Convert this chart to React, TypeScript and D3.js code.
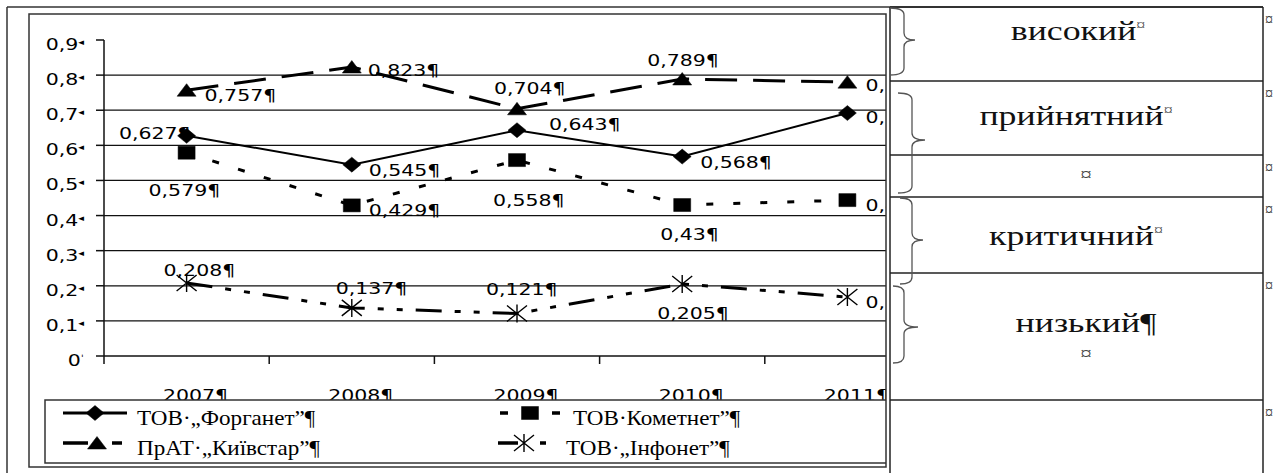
import React, { useEffect } from "react";
import * as d3 from "d3";

// ---------- data ----------
const years = ["2007", "2008", "2009", "2010", "2011"];
const forganet = [0.627, 0.545, 0.643, 0.568, 0.692];
const kometnet = [0.579, 0.429, 0.558, 0.43, 0.444];
const kyivstar = [0.757, 0.823, 0.704, 0.789, 0.78];
const infonet = [0.208, 0.137, 0.121, 0.205, 0.168];
const yTickValues = [0, 0.1, 0.2, 0.3, 0.4, 0.5, 0.6, 0.7, 0.8, 0.9];
const seriesNames = ["ТОВ·„Форганет”¶", "ТОВ·Кометнет”¶", "ПрАТ·„Київстар”¶", "ТОВ·„Інфонет”¶"];
const levelNames = ["високий", "прийнятний", "", "критичний", "низький"];

// ---------- layout ----------
const W = 1278;
const H = 473;
const SX = 1.28; // horizontal stretch of glyphs in the reference
const SX_LEGEND = 1.05;
const SANS = "'DejaVu Sans', Verdana, sans-serif";
const SERIF = "'Liberation Serif', 'Times New Roman', serif";

const x = d3.scaleBand<string>().domain(years).range([104, 930]);
const cx = (yr: string) => (x(yr) as number) + x.bandwidth() / 2;
const y = d3.scaleLinear().domain([0, 0.9]).range([356, 40]);

const fmtTick = (v: number) => (v === 0 ? "0" : d3.format(".1f")(v).replace(".", ","));
const fmtVal = (v: number) => String(v).replace(".", ",") + "¶";

type Off = [string, number, number];
const series = [
  {
    name: seriesNames[0], values: forganet, dash: "none", width: 2, marker: "diamond",
    labels: [["end", 4, 3], ["start", 17, 11], ["start", 32, 0], ["start", 18, 11], ["start", 18, 10]] as Off[],
  },
  {
    name: seriesNames[1], values: kometnet, dash: "7 20", width: 3, marker: "square",
    labels: [["start", -38, 43], ["start", 17, 11], ["start", -24, 46], ["start", -22, 35], ["start", 18, 11]] as Off[],
  },
  {
    name: seriesNames[2], values: kyivstar, dash: "32 16", width: 3, marker: "triangle",
    labels: [["start", 18, 11], ["start", 16, 9], ["start", -23, -15], ["start", -35, -13], ["start", 18, 9]] as Off[],
  },
  {
    name: seriesNames[3], values: infonet, dash: "26 13 6 13 6 13", width: 3, marker: "asterisk",
    labels: [["start", -23, -7], ["start", -16, -14], ["start", -31, -19], ["start", -25, 35], ["start", 18, 11]] as Off[],
  },
];

const markerPath: Record<string, string> = {
  diamond: "M0,-7.5L9,0L0,7.5L-9,0Z",
  square: "M-8.5,-6.5h17v13h-17Z",
  triangle: "M0,-6.5L9.5,6L-9.5,6Z",
  asterisk: "M-10,-8L10,8M-10,8L10,-8M0,-9V9",
};

function Marker({ type, tx, ty }: { type: string; tx: number; ty: number }) {
  const isStroke = type === "asterisk";
  return (
    <path
      d={markerPath[type]}
      transform={`translate(${tx},${ty})`}
      fill={isStroke ? "none" : "#000"}
      stroke="#000"
      strokeWidth={isStroke ? 1.4 : 0.5}
    />
  );
}

function SText({ tx, ty, anchor = "start", size, family, children, fill = "#000", sx = SX }: any) {
  return (
    <text
      transform={`translate(${tx},${ty}) scale(${sx},1)`}
      textAnchor={anchor}
      fontSize={size}
      fontFamily={family}
      fill={fill}
    >
      {children}
    </text>
  );
}

// table geometry
const tableLeft = 890;
const tableRight = 1263;
const rowLines = [7, 81, 155, 197, 273, 400];
const levelText = [
  { cx: 1078, base: 40 },
  { cx: 1076, base: 125 },
  { cx: 1086, base: 181 },
  { cx: 1076, base: 245 },
  { cx: 1086, base: 332 },
];
const braces = [
  { x0: 890, xm: 904, xt: 915, y0: 8, ym: 40, y1: 75 },
  { x0: 898, xm: 912, xt: 925, y0: 93, ym: 140, y1: 193 },
  { x0: 900, xm: 912, xt: 923, y0: 198, ym: 240, y1: 284 },
  { x0: 893, xm: 904, xt: 918, y0: 286, ym: 327, y1: 363 },
];
function bracePath(b: any) {
  const r = 7;
  return `M${b.x0},${b.y0} Q${b.xm},${b.y0} ${b.xm},${b.y0 + r} L${b.xm},${b.ym - r} Q${b.xm},${b.ym} ${b.xt},${b.ym} Q${b.xm},${b.ym} ${b.xm},${b.ym + r} L${b.xm},${b.y1 - r} Q${b.xm},${b.y1} ${b.x0},${b.y1}`;
}

export default function App() {
  useEffect(() => {
    document.body.style.margin = "0";
  }, []);

  const line = d3
    .line<number>()
    .x((_, i) => cx(years[i]))
    .y((d) => y(d));

  const gridVals = yTickValues.filter((v) => v > 0 && v < 0.9);

  return (
    <svg width={W} height={H} style={{ position: "absolute", left: 0, top: 0, display: "block", background: "#fff" }}>
      <defs>
        <clipPath id="chartClip">
          <rect x={29} y={14} width={857} height={453} />
        </clipPath>
      </defs>
      <rect x={0} y={0} width={W} height={H} fill="#fff" />

      {/* outer cell borders */}
      <line x1={7} y1={7} x2={tableRight} y2={7} stroke="#333" strokeWidth={1.5} />
      <line x1={7} y1={7} x2={7} y2={H} stroke="#333" strokeWidth={1.5} />

      {/* chart area */}
      <g clipPath="url(#chartClip)">
        {gridVals.map((v) => (
          <line key={v} x1={104} x2={886} y1={y(v)} y2={y(v)} stroke="#111" strokeWidth={1.3} />
        ))}
        <line x1={104} x2={104} y1={y(0.9)} y2={y(0)} stroke="#111" strokeWidth={1.5} />
        <line x1={104} x2={886} y1={y(0)} y2={y(0)} stroke="#111" strokeWidth={1.5} />
        {yTickValues.map((v) => (
          <line key={"t" + v} x1={96} x2={104} y1={y(v)} y2={y(v)} stroke="#111" strokeWidth={1.5} />
        ))}
        {years.map((yr) => (
          <line key={"xt" + yr} x1={x(yr)} x2={x(yr)} y1={y(0)} y2={y(0) + 8} stroke="#111" strokeWidth={1.5} />
        ))}
        {yTickValues.map((v) => (
          <SText key={"yl" + v} tx={84} ty={y(v) + 10} anchor="end" size={16} family={SANS}>
            {fmtTick(v)}
            <tspan fontSize={9} dy={-5}>{v === 0 ? "ˈ" : "◂"}</tspan>
          </SText>
        ))}
        {years.map((yr) => (
          <SText key={"xl" + yr} tx={cx(yr) + 9} ty={401} anchor="middle" size={16} family={SANS}>
            {yr + "¶"}
          </SText>
        ))}

        {series.map((s) => (
          <path
            key={s.name}
            d={line(s.values) as string}
            fill="none"
            stroke="#000"
            strokeWidth={s.width}
            strokeDasharray={s.dash}
          />
        ))}
        {series.map((s) =>
          s.values.map((v, i) => <Marker key={s.name + i} type={s.marker} tx={cx(years[i])} ty={y(v)} />)
        )}
        {series.map((s) =>
          s.values.map((v, i) => {
            const [anchor, dx, dy] = s.labels[i];
            return (
              <SText key={s.name + "l" + i} tx={cx(years[i]) + dx} ty={y(v) + dy} anchor={anchor} size={16} family={SANS}>
                {fmtVal(v)}
              </SText>
            );
          })
        )}

        {/* legend */}
        <rect x={45} y={400} width={900} height={63} fill="#fff" stroke="#333" strokeWidth={1.5} />
        <line x1={63} x2={127} y1={413} y2={413} stroke="#000" strokeWidth={3} />
        <Marker type="diamond" tx={95} ty={413} />
        <SText tx={137} ty={425} size={22} family={SERIF} sx={SX_LEGEND}>{seriesNames[0]}</SText>
        <line x1={63} x2={122} y1={443} y2={443} stroke="#000" strokeWidth={3.5} strokeDasharray="25 24 10 100" />
        <Marker type="triangle" tx={97} ty={443} />
        <SText tx={137} ty={455} size={22} family={SERIF} sx={SX_LEGEND}>{seriesNames[2]}</SText>
        <line x1={500} x2={560} y1={413} y2={413} stroke="#000" strokeWidth={3.5} strokeDasharray="8 44 8 100" />
        <Marker type="square" tx={530} ty={413} />
        <SText tx={573} ty={425} size={22} family={SERIF} sx={SX_LEGEND}>{seriesNames[1]}</SText>
        <line x1={498} x2={548} y1={443} y2={443} stroke="#000" strokeWidth={3.5} strokeDasharray="20 22 6 100" />
        <Marker type="asterisk" tx={524} ty={443} />
        <SText tx={566} ty={455} size={22} family={SERIF} sx={SX_LEGEND}>{seriesNames[3]}</SText>
      </g>
      <rect x={29} y={14} width={857} height={453} fill="none" stroke="#333" strokeWidth={1.5} />

      {/* right table */}
      <line x1={tableLeft} x2={tableLeft} y1={7} y2={H} stroke="#222" strokeWidth={1.5} />
      <line x1={tableRight} x2={tableRight} y1={7} y2={H} stroke="#222" strokeWidth={1.5} />
      {rowLines.map((ry) => (
        <line key={"r" + ry} x1={tableLeft} x2={tableRight} y1={ry} y2={ry} stroke="#222" strokeWidth={1.5} />
      ))}
      {rowLines.map((ry) => (
        <text key={"m" + ry} x={1265} y={ry + 18} fontSize={16} fontFamily={SERIF} fill="#333">
          ¤
        </text>
      ))}
      {levelNames.map((nm, i) => (
        <SText key={"lv" + i} tx={levelText[i].cx} ty={levelText[i].base} anchor="middle" size={28} family={SERIF} fill="#111">
          {i === 4 ? nm + "¶" : nm}
          {i !== 4 && (
            <tspan fontSize={i === 2 ? 18 : 14} dy={i === 2 ? 0 : -10} fill="#444">
              ¤
            </tspan>
          )}
        </SText>
      ))}
      <SText tx={1086} ty={360} anchor="middle" size={18} family={SERIF} fill="#444">¤</SText>
      {braces.map((b, i) => (
        <path key={"b" + i} d={bracePath(b)} fill="none" stroke="#555" strokeWidth={1.3} />
      ))}
    </svg>
  );
}
